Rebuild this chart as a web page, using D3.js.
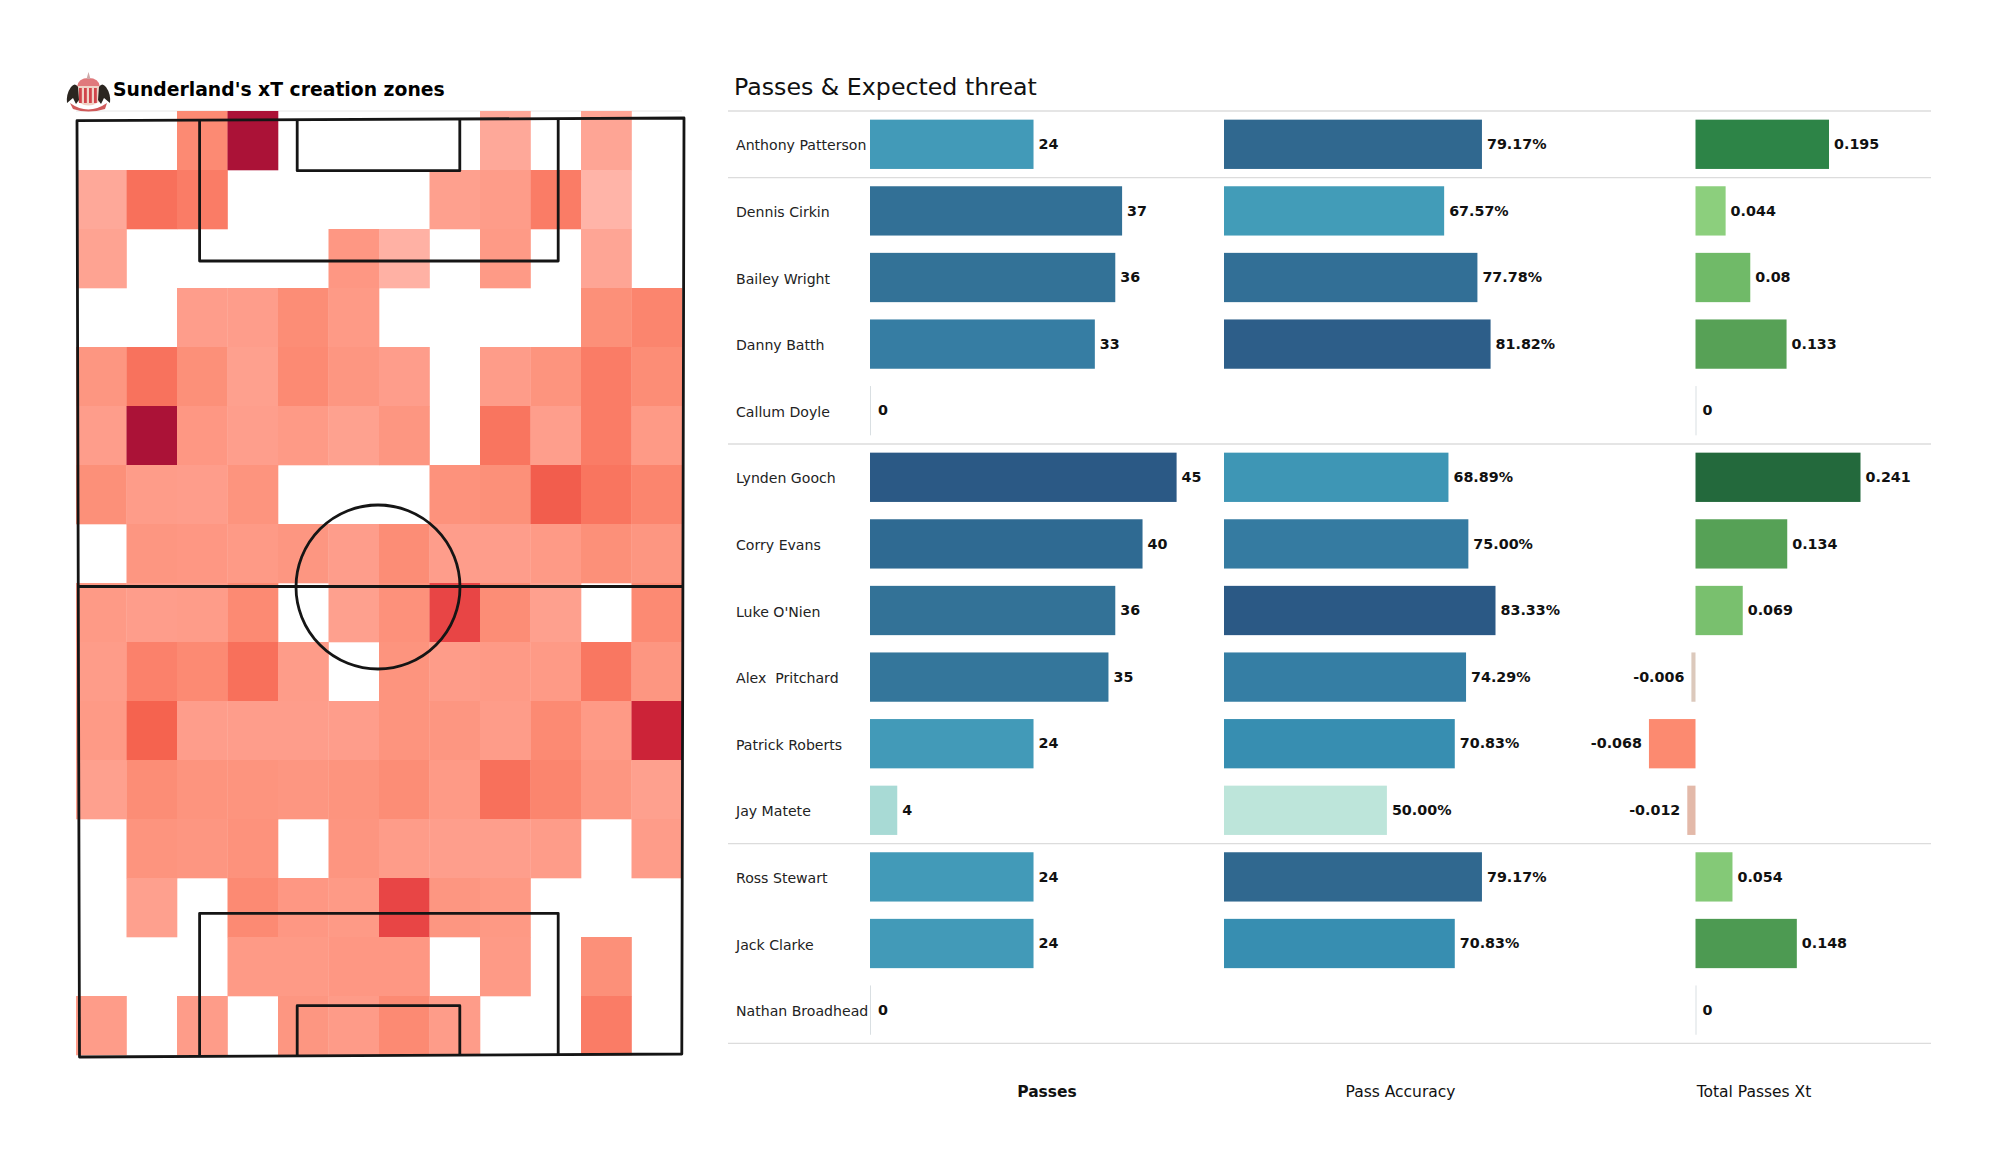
<!DOCTYPE html>
<html><head><meta charset="utf-8">
<script src="https://cdnjs.cloudflare.com/ajax/libs/d3/7.8.5/d3.min.js"></script>
<style>html,body{margin:0;padding:0;background:#fff}svg{display:block}text{font-family:"DejaVu Sans",sans-serif}</style>
</head><body><svg id="c" width="2000" height="1175"></svg>
<script>
const players=["Anthony Patterson","Dennis Cirkin","Bailey Wright","Danny Batth","Callum Doyle","Lynden Gooch","Corry Evans","Luke O'Nien","Alex  Pritchard","Patrick Roberts","Jay Matete","Ross Stewart","Jack Clarke","Nathan Broadhead"];
const passes=[24,37,36,33,0,45,40,36,35,24,4,24,24,0];
const accuracy=[79.17,67.57,77.78,81.82,null,68.89,75.00,83.33,74.29,70.83,50.00,79.17,70.83,null];
const xt=[0.195,0.044,0.08,0.133,0,0.241,0.134,0.069,-0.006,-0.068,-0.012,0.054,0.148,0];
const groupEnds=[0,1,5,11,14];
const columnTitles=["Passes","Pass Accuracy","Total Passes Xt"];
const heat=[
[0,0,42,100,0,0,0,0,18,0,20,0],
[18,55,50,0,0,0,0,25,28,50,10,0],
[22,0,0,0,0,32,12,0,30,0,20,0],
[0,0,27,27,40,30,0,0,0,0,38,45],
[33,54,38,25,42,33,27,0,28,35,50,40],
[27,100,32,26,30,24,33,0,53,26,50,30],
[38,28,27,35,0,0,0,36,38,62,53,45],
[0,33,32,30,33,27,40,27,27,30,38,33],
[30,27,28,42,0,25,37,70,40,25,0,42],
[28,47,42,55,28,0,35,28,30,30,52,33],
[30,60,27,27,27,27,35,33,28,42,30,85],
[25,40,35,35,33,35,40,30,55,45,33,25],
[0,35,33,36,0,34,28,26,26,28,0,28],
[0,25,0,42,32,30,70,33,31,0,0,0],
[0,0,0,30,30,32,32,0,30,0,38,0],
[28,0,28,0,33,29,42,28,0,0,50,0]];
const heatStops=[10,20,30,40,50,60,70,85,100];
const heatColors=["#ffb4a8","#fea595","#fe9a86","#fc8d76","#fa7c66","#f5634f","#e84545","#cc2338","#ab1237"];
const passStops=[4,24,33,36,40,45];
const passColors=["#a8dad5","#429ab8","#367da3","#337297","#2f6a92","#2b5985"];
const accStops=[50,67.57,70.83,75,77.78,79.17,83.33];
const accColors=["#bde5da","#429cb8","#378eb1","#357ba1","#326f96","#30688f","#2b5985"];
const xtStops=[-0.068,-0.012,-0.006,0,0.044,0.08,0.133,0.195,0.241];
const xtColors=["#fc8a70","#e3b9a9","#dcc9bc","#d8d8d8","#8ccf7d","#70ba68","#57a156","#2d8447","#23693c"];

const svg=d3.select("#c");
// --- pitch heatmap
const hx=d3.scaleBand().domain(d3.range(12)).range([76,682]);
const hy=d3.scaleBand().domain(d3.range(16)).range([111,1055]);
const hc=d3.scaleLinear().domain(heatStops).range(heatColors).clamp(true);
svg.append("line").attr("x1",76).attr("x2",682).attr("y1",111).attr("y2",111).attr("stroke","#e6e6e6").attr("stroke-width",1);
svg.append("g").selectAll("g").data(heat).join("g").each(function(row,r){
  d3.select(this).selectAll("rect").data(row.map((v,c)=>({v,c})).filter(d=>d.v>0)).join("rect")
    .attr("x",d=>hx(d.c)).attr("y",hy(r)).attr("width",hx.bandwidth()+.3).attr("height",hy.bandwidth()+.3)
    .attr("fill",d=>hc(d.v));
});
const pitch=svg.append("g").attr("fill","none").attr("stroke","#151515").attr("stroke-width",2.8).attr("stroke-linejoin","round");
const seg=(d)=>pitch.append("path").attr("d",d);
seg("M77 120.7 L684 118 L681.8 1054 L79.5 1057 Z");
seg("M199.6 120 V261 H558.2 V118.6");
seg("M297.2 119.5 V170.7 H459.8 V119");
seg("M199.6 1056 V913.3 H558.2 V1054.5");
seg("M297.2 1055.5 V1005.7 H459.8 V1055");
seg("M78 586.5 H683");
pitch.append("circle").attr("cx",378).attr("cy",587).attr("r",82);
svg.append("text").attr("x",113).attr("y",89).attr("dy",".36em").attr("font-size",18.8).attr("font-weight","bold").attr("fill","#000").text("Sunderland's xT creation zones");
// crest
const crest=svg.append("g");
crest.append("path").attr("d","M77 87 Q78 78 88.5 78 Q99 78 100 87 Z").attr("fill","#e0797c");
crest.append("path").attr("d","M88.5 72 L90.5 79 H86.5 Z").attr("fill","#cfa8a8");
crest.append("path").attr("d","M78 86 H99 V102 Q88.5 109 78 102 Z").attr("fill","#f0d2c6");
d3.range(4).forEach(i=>crest.append("rect").attr("x",79+i*5).attr("y",88).attr("width",2.8).attr("height",15).attr("fill","#d1444a"));
crest.append("path").attr("d","M70 103 Q88 116 107 103 L105 109 Q88 114 73 109 Z").attr("fill","#d05a5a");
crest.append("path").attr("d","M71 87 Q75 82 78 87 L79 100 L76 104 L73 98 L67 103 Q66 94 71 87 Z").attr("fill","#2b2620");
crest.append("path").attr("d","M106 87 Q102 82 99 87 L98 100 L101 104 L104 98 L110 103 Q111 94 106 87 Z").attr("fill","#2b2620");

// --- table
const y=d3.scaleBand().domain(d3.range(players.length)).range([111,1043.4]).paddingInner(0.26).paddingOuter(0.13);
const rowH=(1043.4-111)/players.length;
const cy=i=>y(i)+y.bandwidth()/2;
svg.append("text").attr("x",734).attr("y",86).attr("dy",".36em").attr("font-size",23.7).attr("fill","#111").text("Passes & Expected threat");
svg.append("g").selectAll("line").data(groupEnds).join("line")
  .attr("x1",728).attr("x2",1931).attr("y1",d=>111+d*rowH).attr("y2",d=>111+d*rowH)
  .attr("stroke","#dcdcdc").attr("stroke-width",1.4);
svg.append("g").selectAll("text").data(players).join("text")
  .attr("x",736).attr("y",(d,i)=>cy(i)+1).attr("dy",".36em").attr("font-size",14.1).attr("fill","#222").style("white-space","pre").text(d=>d);

function column(vals,x,color,fmt,zeroOff){
  const g=svg.append("g");
  const rows=vals.map((v,i)=>({v,i})).filter(d=>d.v!==null);
  g.selectAll("rect").data(rows.filter(d=>d.v!==0)).join("rect")
    .attr("x",d=>Math.min(x(0),x(d.v))).attr("y",d=>y(d.i)).attr("width",d=>Math.abs(x(d.v)-x(0))).attr("height",y.bandwidth())
    .attr("fill",d=>color(d.v));
  g.selectAll("line").data(rows.filter(d=>d.v===0)).join("line")
    .attr("x1",x(0)+.5).attr("x2",x(0)+.5).attr("y1",d=>y(d.i)).attr("y2",d=>y(d.i)+y.bandwidth())
    .attr("stroke","#d9dfe2").attr("stroke-width",1);
  g.selectAll("text").data(rows).join("text")
    .attr("x",d=>d.v===0?x(0)+zeroOff:d.v<0?x(d.v)-7:x(d.v)+5)
    .attr("y",d=>cy(d.i)-.5).attr("dy",".36em").attr("text-anchor",d=>d.v<0?"end":"start")
    .attr("font-size",14.3).attr("font-weight","bold").attr("fill","#111").text(d=>fmt(d.v));
}
const px=d3.scaleLinear().domain([0,45]).range([870,1176.6]);
const ax=d3.scaleLinear().domain([0,83.33]).range([1224,1495.5]);
const xx=d3.scaleLinear().domain([0,0.241]).range([1695.5,1860.5]);
column(passes,px,d3.scaleLinear().domain(passStops).range(passColors),d=>String(d),8);
column(accuracy,ax,d3.scaleLinear().domain(accStops).range(accColors),d=>d3.format(".2f")(d)+"%",0);
column(xt,xx,d3.scaleLinear().domain(xtStops).range(xtColors),d=>String(d),7);
const titleX=[1047,1400.5,1754];
svg.append("g").selectAll("text").data(columnTitles).join("text")
  .attr("x",(d,i)=>titleX[i]).attr("y",1091).attr("dy",".36em").attr("text-anchor","middle")
  .attr("font-size",15.5).attr("font-weight",(d,i)=>i===0?"bold":"normal").attr("fill","#111").text(d=>d);
</script></body></html>
